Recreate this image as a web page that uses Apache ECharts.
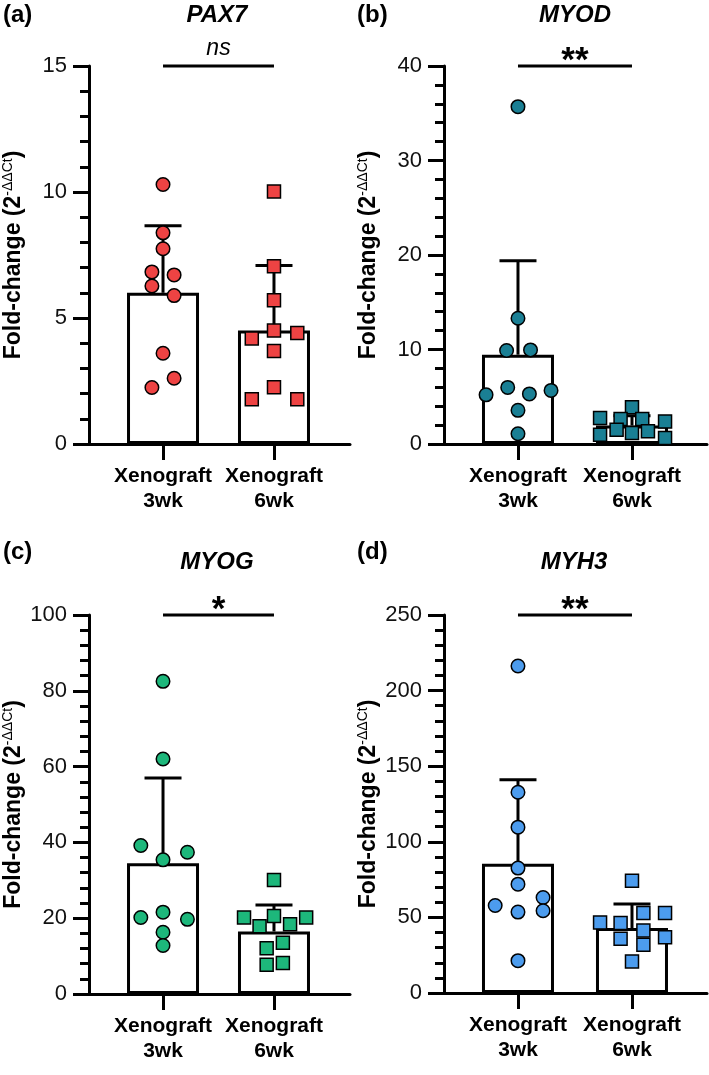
<!DOCTYPE html>
<html>
<head>
<meta charset="utf-8">
<script src="https://cdn.jsdelivr.net/npm/echarts@6/dist/echarts.min.js"></script>
<style>
  html, body { margin: 0; padding: 0; background: #fff; }
  #chart { width: 709px; height: 1075px; }
</style>
</head>
<body>
<div id="chart"></div>
<script>
// categories and labels
var groups = ['Xenograft\n3wk', 'Xenograft\n6wk'];
var genes = ['PAX7', 'MYOD', 'MYOG', 'MYH3'];
var panelTags = ['(a)', '(b)', '(c)', '(d)'];
var sigLabels = ['ns', '**', '*', '**'];
var yMax = [15, 40, 100, 250];
var yStep = [5, 10, 20, 50];
var colors = ['#EE4343', '#1A7F94', '#1DB77B', '#4C9CEE'];

// bar heights (mean) and top of SD whisker, [3wk, 6wk]
var pax7Mean = [6.0, 4.5];
var pax7SdTop = [8.66, 7.08];
var myodMean = [9.45, 1.95];
var myodSdTop = [19.4, 3.0];
var myogMean = [34.5, 16.5];
var myogSdTop = [57.0, 23.5];
var myh3Mean = [85.5, 43.0];
var myh3SdTop = [141.0, 58.8];

// individual points: values and horizontal jitter (in category units)
var pax7Wk3 = [10.3, 8.38, 7.75, 6.83, 6.71, 6.27, 5.89, 3.6, 2.61, 2.24];
var pax7Wk3Jit = [0, 0, 0, -0.1, 0.1, -0.1, 0.1, 0, 0.1, -0.1];
var pax7Wk6 = [10.02, 7.05, 5.7, 4.5, 4.4, 4.19, 3.69, 2.25, 1.78, 1.78];
var pax7Wk6Jit = [0, 0, 0, 0, 0.21, -0.2, 0, 0, -0.2, 0.21];

var myodWk3 = [35.7, 13.3, 9.9, 9.96, 5.99, 5.67, 5.2, 5.3, 3.56, 1.09];
var myodWk3Jit = [0, 0, -0.1, 0.11, -0.09, 0.29, -0.28, 0.1, 0, 0];
var myodWk6 = [3.9, 2.75, 2.64, 2.64, 2.39, 1.5, 1.16, 1.34, 0.99, 0.63];
var myodWk6Jit = [0, -0.28, -0.1, 0.09, 0.29, -0.135, 0, 0.14, -0.28, 0.29];

var myogWk3 = [82.5, 62, 39.2, 37.4, 35.4, 21.6, 20.2, 19.7, 16.3, 12.8];
var myogWk3Jit = [0, 0, -0.2, 0.22, 0, 0, -0.2, 0.22, 0, 0];
var myogWk6 = [30.1, 20.2, 20.6, 20.2, 17.9, 18.4, 13.5, 12.1, 8.2, 7.7];
var myogWk6Jit = [0, -0.27, 0, 0.29, -0.13, 0.145, 0.08, -0.066, 0.08, -0.066];

var myh3Wk3 = [216.3, 132.8, 109.7, 82.6, 72.0, 63.2, 57.9, 54.4, 53.5, 21.4];
var myh3Wk3Jit = [0, 0, 0, 0, 0, 0.22, -0.2, 0.22, 0, 0];
var myh3Wk6 = [74.2, 52.9, 52.9, 46.7, 46.3, 41.4, 36.8, 35.9, 31.9, 20.9];
var myh3Wk6Jit = [0, 0.1, 0.29, -0.28, -0.1, 0.1, 0.29, -0.1, 0.1, 0];

var panels = [
  { mean: pax7Mean, sd: pax7SdTop, w3: pax7Wk3, j3: pax7Wk3Jit, w6: pax7Wk6, j6: pax7Wk6Jit },
  { mean: myodMean, sd: myodSdTop, w3: myodWk3, j3: myodWk3Jit, w6: myodWk6, j6: myodWk6Jit },
  { mean: myogMean, sd: myogSdTop, w3: myogWk3, j3: myogWk3Jit, w6: myogWk6, j6: myogWk6Jit },
  { mean: myh3Mean, sd: myh3SdTop, w3: myh3Wk3, j3: myh3Wk3Jit, w6: myh3Wk6, j6: myh3Wk6Jit }
];

// layout of the four plots
var grids = [
  { left: 89, top: 66, width: 261, height: 378 },
  { left: 444, top: 66, width: 263, height: 378 },
  { left: 89, top: 615, width: 261, height: 379 },
  { left: 444, top: 615, width: 263, height: 378 }
];
var xRange = [[0.333, 2.685], [0.351, 2.658], [0.333, 2.685], [0.351, 2.658]];
var tagPos = [[3, 15], [357, 15], [3, 552], [357, 552]];
var titlePos = [[217, 15], [575, 15], [217, 562], [574, 562]];

var FONT = '"Liberation Sans", Arial, sans-serif';

function renderErr(params, api) {
  var x = api.value(0);
  var p0 = api.coord([x, api.value(1)]);
  var p1 = api.coord([x, api.value(2)]);
  var half = 18.5;
  return {
    type: 'group',
    children: [
      { type: 'line', shape: { x1: p0[0], y1: p0[1], x2: p1[0], y2: p1[1] }, style: { stroke: '#000', lineWidth: 3 } },
      { type: 'line', shape: { x1: p1[0] - half, y1: p1[1], x2: p1[0] + half, y2: p1[1] }, style: { stroke: '#000', lineWidth: 3 } }
    ]
  };
}

function renderSig(params, api) {
  var a = api.coord([api.value(0), api.value(2)]);
  var b = api.coord([api.value(1), api.value(2)]);
  var code = api.value(3);
  var txt = code === 0 ? 'ns' : (code === 1 ? '*' : '**');
  var isNs = code === 0;
  return {
    type: 'group',
    children: [
      { type: 'line', shape: { x1: a[0], y1: a[1], x2: b[0], y2: b[1] }, style: { stroke: '#000', lineWidth: 3 } },
      {
        type: 'text',
        style: {
          text: txt,
          x: (a[0] + b[0]) / 2,
          y: a[1] - (isNs ? 17 : 5),
          align: 'center',
          verticalAlign: 'middle',
          fill: '#000',
          font: (isNs ? 'italic 23px ' : 'bold 35px ') + FONT
        }
      }
    ]
  };
}

var xAxes = [], yAxes = [], series = [], graphics = [];

panels.forEach(function (p, i) {
  xAxes.push({
    gridIndex: i,
    type: 'value',
    min: xRange[i][0],
    max: xRange[i][1],
    splitLine: { show: false },
    axisLine: { lineStyle: { color: '#000', width: 3 } },
    axisTick: { customValues: [1, 2], length: 16, lineStyle: { color: '#000', width: 3 } },
    axisLabel: {
      customValues: [1, 2],
      formatter: function (v) { return groups[Math.round(v) - 1]; },
      color: '#000', fontSize: 21, fontWeight: 'bold', fontFamily: FONT,
      lineHeight: 25, margin: 20
    }
  });
  yAxes.push({
    gridIndex: i,
    type: 'value',
    min: 0,
    max: yMax[i],
    interval: yStep[i],
    splitLine: { show: false },
    axisLine: { show: true, lineStyle: { color: '#000', width: 3 } },
    axisTick: { show: true, length: 16, lineStyle: { color: '#000', width: 3 } },
    minorTick: { show: true, splitNumber: 5, length: 9, lineStyle: { color: '#000', width: 3 } },
    axisLabel: { color: '#111', fontSize: 22, fontFamily: FONT, margin: 22 },
    name: '{a|Fold-change (2}{b|-ΔΔCt}{a|)}',
    nameLocation: 'middle',
    nameGap: 62,
    nameTextStyle: {
      rich: {
        a: { fontSize: 23, fontWeight: 'bold', fontFamily: FONT, color: '#000', lineHeight: 26 },
        b: { fontSize: 14, fontFamily: FONT, color: '#000', verticalAlign: 'top', lineHeight: 14 }
      }
    }
  });

  series.push({
    type: 'bar',
    xAxisIndex: i, yAxisIndex: i,
    barWidth: 72,
    itemStyle: { color: '#fff', borderColor: '#000', borderWidth: 3 },
    data: [[1, p.mean[0]], [2, p.mean[1]]],
    z: 2
  });
  series.push({
    type: 'custom',
    xAxisIndex: i, yAxisIndex: i,
    renderItem: renderErr,
    data: [[1, p.mean[0], p.sd[0]], [2, p.mean[1], p.sd[1]]],
    z: 3
  });
  series.push({
    type: 'scatter',
    xAxisIndex: i, yAxisIndex: i,
    symbol: 'circle',
    symbolSize: 13.5,
    itemStyle: { color: colors[i], borderColor: '#000', borderWidth: 1.5, opacity: 1 },
    data: p.w3.map(function (v, k) { return [1 + p.j3[k], v]; }),
    z: 4
  });
  series.push({
    type: 'scatter',
    xAxisIndex: i, yAxisIndex: i,
    symbol: 'rect',
    symbolSize: 13,
    itemStyle: { color: colors[i], borderColor: '#000', borderWidth: 1.5, opacity: 1 },
    data: p.w6.map(function (v, k) { return [2 + p.j6[k], v]; }),
    z: 4
  });
  var sigCode = sigLabels[i] === 'ns' ? 0 : sigLabels[i].length;
  series.push({
    type: 'custom',
    xAxisIndex: i, yAxisIndex: i,
    renderItem: renderSig,
    clip: false,
    data: [[1, 2, yMax[i], sigCode]],
    z: 5
  });

  graphics.push({
    type: 'text', x: tagPos[i][0], y: tagPos[i][1],
    style: { text: panelTags[i], font: 'bold 24px ' + FONT, fill: '#000', align: 'left', verticalAlign: 'middle' }
  });
  graphics.push({
    type: 'text', x: titlePos[i][0], y: titlePos[i][1],
    style: { text: genes[i], font: 'italic bold 24px ' + FONT, fill: '#000', align: 'center', verticalAlign: 'middle' }
  });
});

var chart = echarts.init(document.getElementById('chart'));
chart.setOption({
  backgroundColor: '#fff',
  animation: false,
  grid: grids,
  xAxis: xAxes,
  yAxis: yAxes,
  series: series,
  graphic: graphics
});
</script>
</body>
</html>
